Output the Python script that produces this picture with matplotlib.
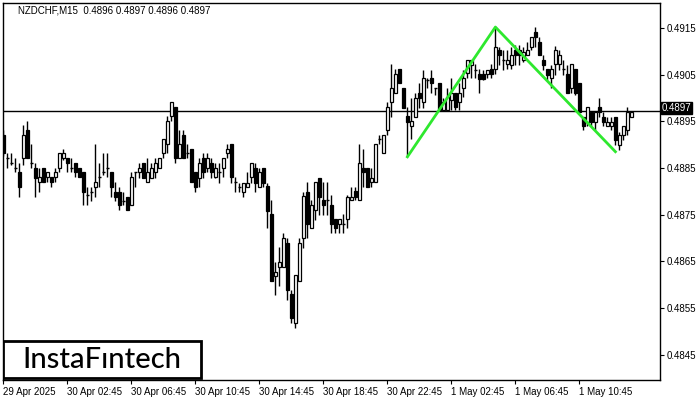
import matplotlib
matplotlib.use("Agg")
import matplotlib.pyplot as plt
from matplotlib.patches import Rectangle
import numpy as np

# NZDCHF M15 candles, prices in pips (x 1e-4)
opens = [4892.1, 4887.2, 4886.1, 4885.0, 4884.2, 4887.2, 4893.2, 4886.1, 4885.0, 4882.0,
         4885.0, 4883.1, 4883.1, 4883.1, 4885.0, 4887.2, 4887.2, 4885.0, 4886.1, 4885.0,
         4884.2, 4879.2, 4879.9, 4881.0, 4883.1, 4884.2, 4885.0, 4884.2, 4879.9, 4879.9,
         4878.0, 4878.8, 4877.1, 4884.2, 4884.2, 4886.1, 4882.0, 4882.9, 4884.2, 4885.0,
         4888.2, 4890.2, 4896.2, 4898.1, 4887.2, 4892.1, 4888.2, 4889.1, 4884.2, 4882.9,
         4887.2, 4885.0, 4886.1, 4883.1, 4884.2, 4885.0, 4888.2, 4890.2, 4882.0, 4881.0,
         4879.9, 4881.0, 4883.1, 4885.0, 4881.0, 4885.0, 4881.2, 4875.2, 4861.9, 4863.8,
         4863.8, 4869.0, 4858.0, 4851.8, 4860.8, 4870.0, 4879.9, 4872.2, 4876.0, 4882.9,
         4878.2, 4878.2, 4877.1, 4874.1, 4873.0, 4873.0, 4874.1, 4878.2, 4880.1, 4878.2,
         4885.0, 4885.0, 4882.0, 4882.0, 4891.2, 4888.2, 4893.2, 4899.2, 4901.1, 4906.2,
         4902.2, 4896.2, 4894.0, 4895.9, 4901.1, 4899.2, 4903.9, 4904.3, 4902.2, 4903.2,
         4897.4, 4897.4, 4899.6, 4901.1, 4899.2, 4902.2, 4905.4, 4907.1, 4906.0, 4905.2,
         4905.2, 4905.2, 4906.2, 4906.2, 4910.3, 4908.1, 4907.3, 4907.1, 4910.3, 4910.3,
         4908.1, 4909.2, 4910.9, 4914.1, 4912.0, 4908.1, 4906.2, 4904.3, 4907.3, 4907.3,
         4906.2, 4905.2, 4902.2, 4906.2, 4903.2, 4895.9, 4894.9, 4897.0, 4894.9, 4898.1,
         4895.9, 4894.0, 4894.0, 4895.9, 4890.0, 4892.1, 4893.2, 4896.0]
highs = [4893.2, 4888.2, 4888.2, 4887.2, 4886.1, 4894.2, 4895.1, 4890.2, 4886.1, 4885.0,
         4885.0, 4884.2, 4883.1, 4885.0, 4888.2, 4889.1, 4887.2, 4887.2, 4886.1, 4885.0,
         4884.2, 4881.0, 4881.0, 4890.2, 4886.1, 4888.2, 4888.2, 4884.2, 4882.0, 4881.0,
         4879.9, 4878.8, 4884.2, 4884.2, 4886.1, 4886.1, 4887.2, 4886.1, 4887.2, 4887.2,
         4891.2, 4896.2, 4899.2, 4898.1, 4893.2, 4893.2, 4890.2, 4889.1, 4884.2, 4887.2,
         4888.2, 4888.2, 4887.2, 4886.1, 4886.1, 4887.2, 4890.2, 4890.2, 4883.1, 4881.8,
         4881.8, 4884.2, 4886.1, 4886.1, 4885.0, 4885.0, 4881.8, 4878.2, 4864.9, 4868.1,
         4871.1, 4870.0, 4858.9, 4862.1, 4870.0, 4879.9, 4882.0, 4878.2, 4882.0, 4882.9,
         4882.0, 4882.0, 4879.2, 4874.1, 4874.1, 4875.2, 4879.2, 4881.0, 4881.0, 4890.2,
         4889.1, 4885.0, 4885.0, 4890.2, 4892.1, 4892.1, 4899.2, 4907.3, 4906.2, 4906.2,
         4902.2, 4898.1, 4900.0, 4901.1, 4903.2, 4906.0, 4904.3, 4906.0, 4902.2, 4903.2,
         4900.0, 4902.2, 4904.3, 4901.1, 4903.2, 4906.0, 4908.1, 4908.1, 4907.3, 4906.2,
         4906.0, 4906.0, 4907.3, 4915.2, 4910.9, 4910.3, 4910.3, 4910.9, 4911.4, 4911.4,
         4910.9, 4912.0, 4913.1, 4915.2, 4913.1, 4909.2, 4906.2, 4907.1, 4911.1, 4910.3,
         4908.1, 4907.1, 4907.3, 4906.2, 4903.2, 4895.9, 4898.1, 4897.0, 4897.0, 4900.0,
         4897.0, 4895.9, 4895.9, 4895.9, 4892.7, 4894.0, 4898.1, 4897.0]
lows = [4887.6, 4885.0, 4885.7, 4884.2, 4878.8, 4885.7, 4887.2, 4885.0, 4878.8, 4879.9,
        4882.0, 4882.0, 4881.0, 4882.0, 4884.2, 4886.7, 4884.2, 4884.2, 4883.1, 4883.1,
        4877.1, 4877.1, 4878.0, 4878.8, 4881.0, 4883.5, 4883.1, 4878.8, 4878.0, 4876.0,
        4877.1, 4876.0, 4877.1, 4881.0, 4882.9, 4882.9, 4882.0, 4882.9, 4882.9, 4885.0,
        4887.2, 4888.2, 4895.1, 4886.1, 4887.2, 4887.2, 4887.2, 4882.0, 4879.9, 4881.0,
        4882.9, 4884.2, 4882.9, 4882.9, 4881.8, 4883.1, 4887.2, 4881.8, 4879.9, 4879.9,
        4878.8, 4881.0, 4881.8, 4879.9, 4881.0, 4881.0, 4872.2, 4860.8, 4857.8, 4859.8,
        4863.8, 4856.8, 4851.8, 4850.8, 4860.8, 4867.9, 4870.0, 4872.2, 4873.9, 4875.0,
        4875.0, 4875.0, 4871.1, 4871.1, 4871.1, 4871.1, 4872.2, 4878.2, 4878.2, 4878.2,
        4881.0, 4881.0, 4881.0, 4882.0, 4890.2, 4888.2, 4892.1, 4895.9, 4901.1, 4903.2,
        4897.9, 4887.4, 4891.2, 4895.9, 4897.9, 4897.9, 4902.2, 4901.1, 4900.7, 4897.4,
        4897.4, 4897.4, 4897.4, 4897.4, 4897.4, 4900.2, 4904.3, 4904.3, 4904.3, 4901.1,
        4903.9, 4904.3, 4904.3, 4905.2, 4907.1, 4906.0, 4906.2, 4906.2, 4907.1, 4907.1,
        4907.7, 4909.2, 4910.3, 4910.9, 4909.2, 4906.0, 4903.9, 4902.2, 4904.9, 4906.0,
        4904.9, 4901.1, 4901.1, 4900.7, 4897.0, 4893.2, 4894.0, 4894.0, 4893.2, 4895.9,
        4894.0, 4894.0, 4893.2, 4890.0, 4888.9, 4891.0, 4892.1, 4896.0]
closes = [4888.2, 4887.2, 4886.1, 4885.0, 4881.0, 4892.1, 4887.2, 4886.1, 4882.9, 4883.1,
          4882.0, 4884.2, 4882.0, 4884.2, 4888.2, 4888.2, 4886.1, 4885.0, 4884.2, 4883.1,
          4879.9, 4879.2, 4879.9, 4882.0, 4883.1, 4884.2, 4885.0, 4881.0, 4878.8, 4877.1,
          4878.0, 4876.0, 4883.1, 4884.2, 4885.0, 4882.9, 4884.2, 4885.0, 4886.1, 4887.2,
          4891.2, 4895.1, 4899.2, 4887.2, 4890.2, 4887.2, 4888.2, 4882.0, 4881.0, 4886.1,
          4884.2, 4887.2, 4884.2, 4885.0, 4884.2, 4887.2, 4889.1, 4883.1, 4882.0, 4881.0,
          4881.8, 4881.8, 4886.1, 4881.8, 4884.2, 4881.8, 4875.8, 4860.8, 4862.8, 4864.9,
          4870.0, 4858.9, 4852.9, 4862.1, 4869.0, 4879.0, 4873.0, 4877.1, 4882.0, 4878.8,
          4877.1, 4878.2, 4873.0, 4872.2, 4874.1, 4873.0, 4878.8, 4878.8, 4878.8, 4886.1,
          4884.2, 4881.0, 4882.9, 4890.2, 4891.2, 4892.1, 4898.1, 4902.2, 4905.2, 4903.2,
          4897.9, 4894.9, 4895.1, 4900.0, 4900.0, 4904.3, 4903.9, 4903.2, 4902.2, 4897.4,
          4899.2, 4900.2, 4901.1, 4898.1, 4901.1, 4904.3, 4908.1, 4908.1, 4906.0, 4904.1,
          4904.1, 4906.0, 4905.2, 4910.9, 4909.2, 4908.1, 4908.1, 4909.2, 4909.2, 4909.2,
          4909.9, 4910.3, 4913.1, 4913.1, 4909.2, 4907.1, 4904.9, 4906.2, 4910.3, 4909.2,
          4906.2, 4901.1, 4907.3, 4901.1, 4897.0, 4894.0, 4898.1, 4894.9, 4897.0, 4897.0,
          4894.9, 4894.9, 4894.9, 4891.0, 4892.1, 4894.0, 4897.0, 4897.0]

o = np.array(opens) / 10000
h = np.array(highs) / 10000
l = np.array(lows) / 10000
c = np.array(closes) / 10000
idx = np.arange(len(o))

# time axis labels (every 16 bars)
tick_idx = [0, 16, 32, 48, 64, 80, 96, 112, 128, 144]
tick_labels = ["29 Apr 2025", "30 Apr 02:45", "30 Apr 06:45", "30 Apr 10:45",
               "30 Apr 14:45", "30 Apr 18:45", "30 Apr 22:45", "1 May 02:45",
               "1 May 06:45", "1 May 10:45"]
price_ticks = [0.4845, 0.4855, 0.4865, 0.4875, 0.4885, 0.4895, 0.4905, 0.4915]

# double top pattern points
pattern_idx = [101, 123, 153]
pattern_price = [0.48874, 0.49152, 0.48885]
last_price = 0.4897

plt.rcParams["font.family"] = ["Liberation Sans", "DejaVu Sans"]

fig = plt.figure(figsize=(7, 4), dpi=100)
ax = fig.add_axes([3 / 700, 20 / 400, 657 / 700, 377 / 400])

ax.vlines(idx, l, h, color="black", lw=1, zorder=2)
w = 0.65
for i in idx:
    lo, hi = min(o[i], c[i]), max(o[i], c[i])
    if hi - lo < 0.000015:
        ax.hlines(o[i], i - w / 2, i + w / 2, color="black", lw=1, zorder=3)
        continue
    face = "white" if c[i] > o[i] else "black"
    ax.add_patch(Rectangle((i - w / 2, lo), w, hi - lo, facecolor=face,
                           edgecolor="black", lw=0.9, zorder=3))

ax.axhline(last_price + 0.00003, color="black", lw=1, zorder=1)
ax.plot(pattern_idx, pattern_price, color="#2ee82e", lw=2, zorder=4)

ax.set_xlim(-0.1, 164.15)
ax.set_ylim(0.48396, 0.492035)

ax.yaxis.tick_right()
ax.set_yticks(price_ticks)
ax.set_yticklabels([f"{p:.4f}" for p in price_ticks])
ax.set_xticks(tick_idx)
ax.set_xticklabels(tick_labels)
for lbl in ax.get_xticklabels():
    lbl.set_ha("left")
for lbl in ax.get_yticklabels():
    lbl.set_zorder(1)
ax.tick_params(axis="both", labelsize=7, length=3, width=0.8, pad=2, colors="black")
for s in ax.spines.values():
    s.set_linewidth(1)

ax.text(1.003, last_price + 0.00008, f"{last_price:.4f}", transform=ax.get_yaxis_transform(),
        fontsize=7, color="white", va="center", ha="left", zorder=6,
        bbox=dict(facecolor="black", edgecolor="black", pad=0.6))

ax.text(0.023, 0.979, "NZDCHF,M15  0.4896 0.4897 0.4896 0.4897", transform=ax.transAxes,
        fontsize=7, va="center", ha="left")

ax.add_patch(Rectangle((0.0, 0.005), 0.301, 0.0985, transform=ax.transAxes,
                       facecolor="white", edgecolor="black", lw=2, zorder=7))
ax.text(0.151, 0.054, "InstaF\u0131ntech", transform=ax.transAxes, fontsize=21,
        family=["Lato", "DejaVu Sans"], weight="medium", va="center", ha="center", zorder=8)

fig.savefig("out.png", dpi=100)
